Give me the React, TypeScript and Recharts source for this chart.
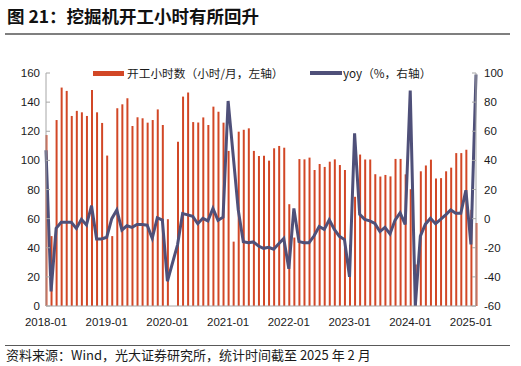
import React from 'react';
import { ComposedChart, Bar, Line, XAxis, YAxis } from 'recharts';

const years = [2018, 2019, 2020, 2021, 2022, 2023, 2024, 2025];
const months: string[] = [];
years.forEach((y) => {
  const last = y === 2025 ? 2 : 12;
  for (let m = 1; m <= last; m++) months.push(`${y}-${m < 10 ? '0' + m : m}`);
});

// 开工小时数（小时/月）
const hours: (number | null)[] = [
  117.4, 48, 127.7, 150, 147.7, 130.5, 134, 133, 130.5, 148.4, 133, 125.7,
  103.3, 48, 135.8, 138.5, 142.6, 123.6, 129.6, 128.9, 125.9, 127.7, 135, 124.3,
  59.6, null, 112.8, 143.8, 146.6, 126.3, 126, 129.5, 124.3, 136.9, 133.4, 125.9,
  106.5, 44.2, 119.7, 121, 122, 106.5, 103, 103.2, 99.8, 108.3, 109.9, 108.7,
  69.9, 47, 100.9, 100.7, 101.9, 93.4, 97.5, 95.5, 99.1, 100.7, 96.8, 93.4,
  42, 75, 104, 100.6, 100.6, 90.5, 88.9, 90, 89, 101, 101, 90.4,
  80.2, 28.5, 92.5, 96.5, 100.5, 87.5, 87.8, 92.5, 95, 105, 105, 107.3,
  66, 57,
];

// yoy（%）
const yoy: (number | null)[] = [
  47, -50, -6.7, -2.5, -2.5, -2.5, -6.7, -0.5, -4.4, 8.9, -14, -14,
  -12.8, 0, 6, -7.8, -4.9, -6, -4, -4, -4.5, -13.5, 0.6, -1,
  -43, null, -18, 3.5, 2.6, 1.6, -3.5, 0.2, -1.6, 7, -1.1, 1,
  80.8, null, 6, -15.8, -16.5, -16, -18.8, -20.4, -19.7, -21, -17.2, -13.6,
  -34.5, 7, -15.8, -16.6, -16.5, -11.8, -5.4, -7.4, -0.8, -7.4, -12.2, -14.4,
  -40, 58.6, 3, -0.5, -1.5, -3.3, -8.9, -6, -10.5, -1, 4, -4,
  88, -60, -12, -3.8, 0.3, -3.5, -0.5, 2.6, 6, 3.7, 3.7, 19.5,
  -17.7, 99,
];

const xTickLabels = ['2018-01', '2019-01', '2020-01', '2021-01', '2022-01', '2023-01', '2024-01', '2025-01'];
const leftTicks = [0, 20, 40, 60, 80, 100, 120, 140, 160];
const rightTicks = [-60, -40, -20, 0, 20, 40, 60, 80, 100];

const titleText = '图 21：挖掘机开工小时有所回升';
const barLegend = '开工小时数（小时/月，左轴）';
const lineLegend = 'yoy（%，右轴）';
const sourceText = '资料来源：Wind，光大证券研究所，统计时间截至 2025 年 2 月';

const data = months.map((m, i) => ({ idx: i, month: m, hours: hours[i], yoy: yoy[i] }));
const xTicks = xTickLabels.map((l) => months.indexOf(l));

const BAR = '#d24726';
const LINE = '#4f5079';
const AXIS = '#a6a6a6';
const CJK = '"Noto Sans CJK SC", "Liberation Sans", sans-serif';
const NUM = '"Liberation Sans", "Noto Sans CJK SC", sans-serif';

export default function App() {
  const tickStyle = { fill: '#1a1a1a', fontSize: 11.5, fontFamily: NUM };
  return (
    <div style={{ position: 'absolute', left: 0, top: 0, width: 521, height: 366, background: '#fff', overflow: 'hidden' }}>
      <div style={{ position: 'absolute', left: 7, top: 4, fontSize: 17.5, lineHeight: '24px', fontWeight: 700, fontFamily: CJK, color: '#111', whiteSpace: 'nowrap' }}>
        {titleText}
      </div>
      <div style={{ position: 'absolute', left: 5, top: 32.5, width: 505, height: 2, background: '#7f7f7f' }} />

      <div style={{ position: 'absolute', left: 0, top: 0 }}>
        <ComposedChart width={521} height={366} data={data} margin={{ top: 73, right: 5, bottom: 30, left: 6 }}>
          <XAxis
            type="number"
            dataKey="idx"
            domain={[0, 85]}
            ticks={xTicks}
            interval={0}
            tickFormatter={(v: number) => months[v]}
            height={30}
            axisLine={{ stroke: AXIS }}
            tickLine={false}
            tickSize={0}
            tickMargin={12}
            tick={tickStyle}
          />
          <YAxis
            yAxisId="left"
            orientation="left"
            width={40}
            domain={[0, 160]}
            ticks={leftTicks}
            interval={0}
            axisLine={{ stroke: AXIS }}
            tickLine={{ stroke: AXIS }}
            tickSize={-4}
            tickMargin={10}
            tick={tickStyle}
          />
          <YAxis
            yAxisId="right"
            orientation="right"
            width={40}
            domain={[-60, 100]}
            ticks={rightTicks}
            interval={0}
            allowDataOverflow
            axisLine={{ stroke: AXIS }}
            tickLine={{ stroke: AXIS }}
            tickSize={-4}
            tickMargin={12}
            tick={{ ...tickStyle, textAnchor: 'start' }}
          />
          <Bar yAxisId="left" dataKey="hours" fill={BAR} barSize={2} isAnimationActive={false} />
          <Line
            yAxisId="right"
            dataKey="yoy"
            type="linear"
            stroke={LINE}
            strokeWidth={3}
            dot={false}
            activeDot={false}
            connectNulls
            isAnimationActive={false}
          />
        </ComposedChart>
      </div>

      <div style={{ position: 'absolute', left: 93, top: 70.5, width: 31, height: 5.5, background: BAR }} />
      <div style={{ position: 'absolute', left: 127, top: 65, fontSize: 11.7, lineHeight: '16px', fontFamily: CJK, color: '#1a1a1a', whiteSpace: 'nowrap' }}>
        {barLegend}
      </div>
      <div style={{ position: 'absolute', left: 310, top: 71, width: 32, height: 3.5, background: LINE }} />
      <div style={{ position: 'absolute', left: 343, top: 65, fontSize: 11.7, lineHeight: '16px', fontFamily: CJK, color: '#1a1a1a', whiteSpace: 'nowrap' }}>
        {lineLegend}
      </div>

      <div style={{ position: 'absolute', left: 5, top: 344.5, width: 505, height: 1, background: '#595959' }} />
      <div style={{ position: 'absolute', left: 6, top: 347, fontSize: 13, lineHeight: '16px', fontFamily: CJK, color: '#1a1a1a', whiteSpace: 'nowrap' }}>
        {sourceText}
      </div>
    </div>
  );
}
